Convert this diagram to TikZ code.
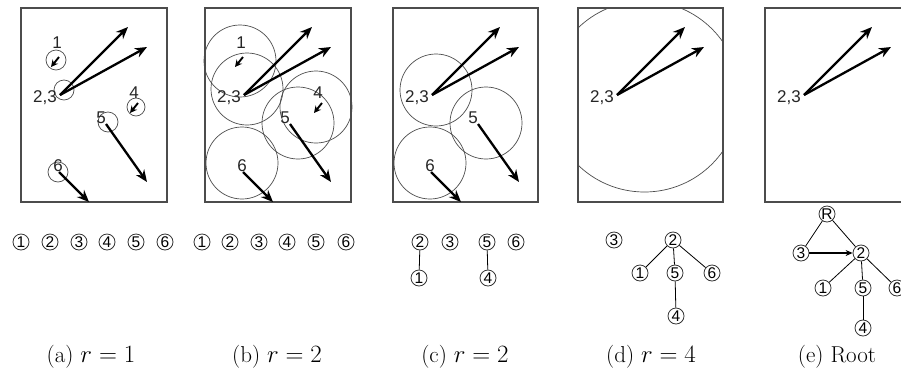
\documentclass[tikz,border=0pt]{standalone}
\usepackage{fontspec}
\newfontfamily\arialf{Liberation Sans}
\usetikzlibrary{arrows.meta}
\tikzset{
  frame/.style={draw=black!70, line width=1.3pt},
  zone/.style={draw=black!70, line width=0.7pt},
  mv/.style={line width=2.3pt, -{Stealth[length=12pt,width=10pt]}},
  smv/.style={line width=1.9pt, -{Stealth[length=7pt,width=7pt]}},
  lbl/.style={font=\arialf\fontsize{17}{17}\selectfont, inner sep=0pt, text=black!85},
  cn/.style={circle, draw=black!80, line width=0.8pt, inner sep=0pt, minimum size=16pt, font=\arialf\fontsize{15.5}{15.5}\selectfont},
  tl/.style={line width=0.8pt},
  captext/.style={font=\fontsize{23}{27}\selectfont, anchor=base, inner sep=0pt}
}
\newcommand\bigarrows{%
  \coordinate (o23) at (60,95);
  \coordinate (t2) at (128,27);
  \coordinate (t3) at (147,47);
  \draw[mv] (o23) -- (t2);
  \draw[mv] (o23) -- (t3);
  \node[lbl] (l23) at (45,98) {2,3};
}
\newcommand\fivesix{%
  \coordinate (o5) at (106,124);
  \coordinate (t5) at (147,182);
  \coordinate (o6) at (59,172);
  \coordinate (t6) at (89,202);
  \draw[mv] (o5) -- (t5);
  \draw[mv] (o6) -- (t6);
  \node[lbl] (l5) at (101,118) {5};
  \node[lbl] (l6) at (58,166) {6};
}
\newcommand\onefour{%
  \coordinate (o1) at (59,57);
  \coordinate (t1) at (51,67);
  \coordinate (o4) at (138,103);
  \coordinate (t4) at (130,113);
  \draw[smv] (o1) -- (t1);
  \draw[smv] (o4) -- (t4);
  \node[lbl] (l1) at (57,43) {1};
  \node[lbl] (l4) at (134,93) {4};
}
\begin{document}
\begin{tikzpicture}[x=1pt, y=-1pt]
\useasboundingbox (0,0) rectangle (901,381);
\clip (0,0) rectangle (901,381);
\fill[white] (0,0) rectangle (901,381);

% (a)
\begin{scope}[name prefix=a-]
  \draw[frame] (21,8) rectangle (167,202);
  \draw[zone] (56,60) circle[radius=10pt];
  \draw[zone] (64,90) circle[radius=10pt];
  \draw[zone] (136,107) circle[radius=9pt];
  \draw[zone] (108,122) circle[radius=10pt];
  \draw[zone] (58,172) circle[radius=10pt];
  \bigarrows
  \fivesix
  \onefour
\end{scope}

% (b)
\begin{scope}[xshift=184pt, name prefix=b-]
  \draw[frame] (21,8) rectangle (167,202);
  \draw[zone] (56,61) circle[radius=36pt];
  \draw[zone] (63,89) circle[radius=36pt];
  \draw[zone] (132,107) circle[radius=36pt];
  \draw[zone] (114,123) circle[radius=36pt];
  \draw[zone] (58,163) circle[radius=36pt];
  \bigarrows
  \fivesix
  \onefour
\end{scope}

% (c)
\begin{scope}[xshift=372pt, name prefix=c-]
  \draw[frame] (21,8) rectangle (166,202);
  \draw[zone] (64,90) circle[radius=36pt];
  \draw[zone] (114,123) circle[radius=36pt];
  \draw[zone] (58,163) circle[radius=36pt];
  \bigarrows
  \fivesix
\end{scope}

% (d)
\begin{scope}[xshift=557pt, name prefix=d-]
  \begin{scope}
    \clip (21,8) rectangle (166,202);
    \draw[zone] (87.5,96.5) circle[radius=95.5pt];
  \end{scope}
  \draw[frame] (21,8) rectangle (166,202);
  \bigarrows
\end{scope}

% (e)
\begin{scope}[xshift=744pt, name prefix=e-]
  \draw[frame] (21,8) rectangle (167,202);
  \bigarrows
\end{scope}

% trees (a)
\foreach \i/\x in {1/21,2/50,3/79,4/107,5/136,6/165}
  \node[cn] (ta\i) at (\x,242) {\i};
% trees (b)
\foreach \i/\x in {1/202,2/230,3/259,4/287,5/316,6/346}
  \node[cn] (tb\i) at (\x,242) {\i};
% tree (c)
\node[cn] (tc2) at (420,242) {2};
\node[cn] (tc3) at (450,242) {3};
\node[cn] (tc5) at (487,242) {5};
\node[cn] (tc6) at (516,242) {6};
\node[cn] (tc1) at (419,278) {1};
\node[cn] (tc4) at (488,278) {4};
\draw[tl] (tc2) -- (tc1);
\draw[tl] (tc5) -- (tc4);
% tree (d)
\node[cn] (td3) at (614,240) {3};
\node[cn] (td2) at (673,240) {2};
\node[cn] (td1) at (640,273) {1};
\node[cn] (td5) at (675,273) {5};
\node[cn] (td6) at (712,273) {6};
\node[cn] (td4) at (676,316) {4};
\draw[tl] (td2) -- (td1);
\draw[tl] (td2) -- (td5);
\draw[tl] (td2) -- (td6);
\draw[tl] (td5) -- (td4);
% tree (e)
\node[cn] (teR) at (827,214) {R};
\node[cn] (te3) at (801,253) {3};
\node[cn] (te2) at (861,253) {2};
\node[cn] (te1) at (823,288) {1};
\node[cn] (te5) at (863,288) {5};
\node[cn] (te6) at (897,288) {6};
\node[cn] (te4) at (863,328) {4};
\draw[tl] (teR) -- (te3);
\draw[tl] (teR) -- (te2);
\draw[line width=1.8pt, -{Stealth[length=7pt,width=6pt]}] (te3) -- (te2);
\draw[tl] (te2) -- (te1);
\draw[tl] (te2) -- (te5);
\draw[tl] (te2) -- (te6);
\draw[tl] (te5) -- (te4);

% captions
\node[captext] (capa) at (91,362) {(a) $r=1$};
\node[captext] (capb) at (277,362) {(b) $r=2$};
\node[captext] (capc) at (465,362) {(c) $r=2$};
\node[captext] (capd) at (651,362) {(d) $r=4$};
\node[captext] (cape) at (837,362) {(e) Root};
\end{tikzpicture}
\end{document}
